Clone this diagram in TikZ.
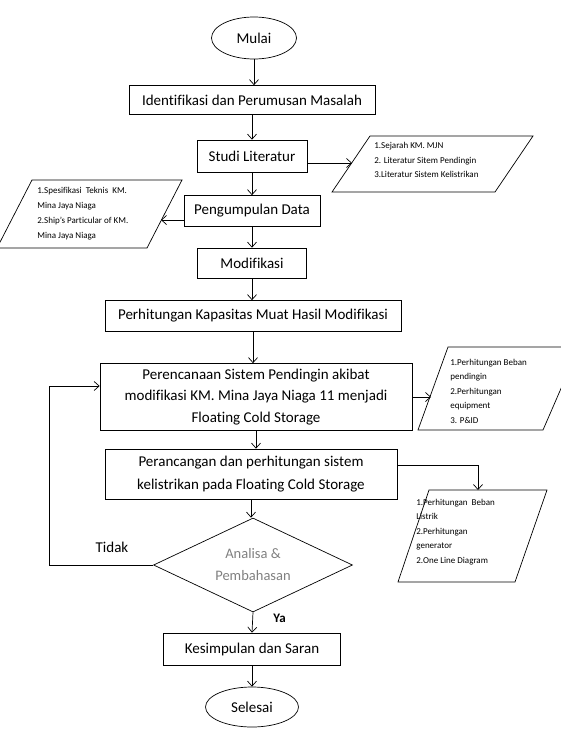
\documentclass[tikz,border=0pt]{standalone}
\usepackage{fontspec}
\setmainfont{Carlito}[Ligatures=CommonOff]
\usetikzlibrary{arrows.meta,shapes.geometric}
\begin{document}
\begin{tikzpicture}[x=1pt,y=-1pt,line width=.7pt,>={Straight Barb[length=5pt,width=9pt]},
	box/.style={draw,rectangle,inner sep=0pt,align=center,font=\fontsize{15}{22}\selectfont},
	term/.style={draw,ellipse,inner sep=0pt,font=\fontsize{15}{18}\selectfont},
	note/.style={align=left,inner sep=0pt,anchor=west,font=\fontsize{9}{14.5}\selectfont}]
	\clip (0,0) rectangle (561,737);
	\node[term,minimum width=85,minimum height=42] (mulai) at (254,38) {Mulai};
	\node[box,minimum width=246,minimum height=29] (idf) at (252,100) {Identifikasi dan Perumusan Masalah};
	\node[box,minimum width=110,minimum height=32] (studi) at (252,156) {Studi Literatur};
	\node[box,minimum width=136,minimum height=31] (data) at (252,211) {Pengumpulan Data};
	\node[box,minimum width=109,minimum height=30] (modif) at (252,263) {Modifikasi};
	\node[box,minimum width=296,minimum height=31] (kap) at (253,316) {Perhitungan Kapasitas Muat Hasil Modifikasi};
	\node[box,minimum width=312,minimum height=67,font=\fontsize{15}{21.5}\selectfont] (renc) at (256,397) {Perencanaan Sistem Pendingin akibat\\modifikasi KM. Mina Jaya Niaga 11 menjadi\\Floating Cold Storage};
	\node[box,minimum width=292,minimum height=50,font=\fontsize{15}{23}\selectfont] (ranc) at (251,474) {Perancangan dan perhitungan sistem\\kelistrikan pada Floating Cold Storage};
	\node[draw,diamond,aspect=2,inner sep=0pt,minimum width=199,minimum height=94,align=center,text=gray,font=\fontsize{14.5}{22}\selectfont] (ana) at (253,565) {Analisa \&\\Pembahasan};
	\node[box,minimum width=177,minimum height=32] (simp) at (252,649) {Kesimpulan dan Saran};
	\node[term,minimum width=93,minimum height=40] (selesai) at (252,707) {Selesai};
	\draw (332,192)--(370,136)--(533,136)--(495,192)--cycle;
	\node[note] (lit) at (374,160) {1.Sejarah KM. MJN\\2. Literatur Sitem Pendingin\\3.Literatur Sistem Kelistrikan};
	\draw (-3,248)--(32,180)--(182,180)--(147,248)--cycle;
	\node[note,font=\fontsize{9}{15}\selectfont] (spek) at (37,214) {1.Spesifikasi~ Teknis~ KM.\\Mina Jaya Niaga\\2.Ship's Particular of KM.\\Mina Jaya Niaga};
	\draw (418,430)--(448,347)--(579,347)--(543,430)--cycle;
	\node[note] (beban) at (450,391) {1.Perhitungan Beban\\pendingin\\2.Perhitungan\\equipment\\3. P\&ID};
	\draw (398,582)--(429,490)--(547,490)--(515,582)--cycle;
	\node[note] (listrik) at (416,532) {1.Perhitungan~ Beban\\Listrik\\2.Perhitungan\\generator\\2.One Line Diagram};
	\coordinate (litin) at (352,163);
	\coordinate (datain) at (161,220);
	\coordinate (coolin) at (431,397);
	\coordinate (elecin) at (478,490);
	\coordinate (loop) at (49,565);
	\draw[->] (mulai) -- (mulai |- idf.north);
	\draw[->] (idf) -- (idf |- studi.north);
	\draw[->] (studi) -- (studi |- data.north);
	\draw[->] (data) -- (data |- modif.north);
	\draw[->] (modif) -- (modif |- kap.north);
	\draw[->] (kap.south) -- (kap.south |- renc.north);
	\draw[->] (renc.south) -- (renc.south |- ranc.north);
	\draw[->] (ranc.south) -- (ranc.south |- ana.north);
	\draw[->] (ana.south) -- (simp.north) node[pos=.3,right=17pt,font=\fontsize{13}{15}\selectfont\bfseries] {Ya};
	\draw[->] (simp) -- (selesai);
	\draw[->] (studi.east |- litin) -- (litin);
	\draw[->] (data.west |- datain) -- (datain);
	\draw[->] (renc.east) -- (coolin);
	\draw[->] ([yshift=9pt]ranc.east) -| (elecin);
	\draw[->] (ana.west) -- (loop) |- ([yshift=11pt]renc.west);
	\node[font=\fontsize{15}{18}\selectfont] (tidak) at (112,547) {Tidak};
\end{tikzpicture}
\end{document}
